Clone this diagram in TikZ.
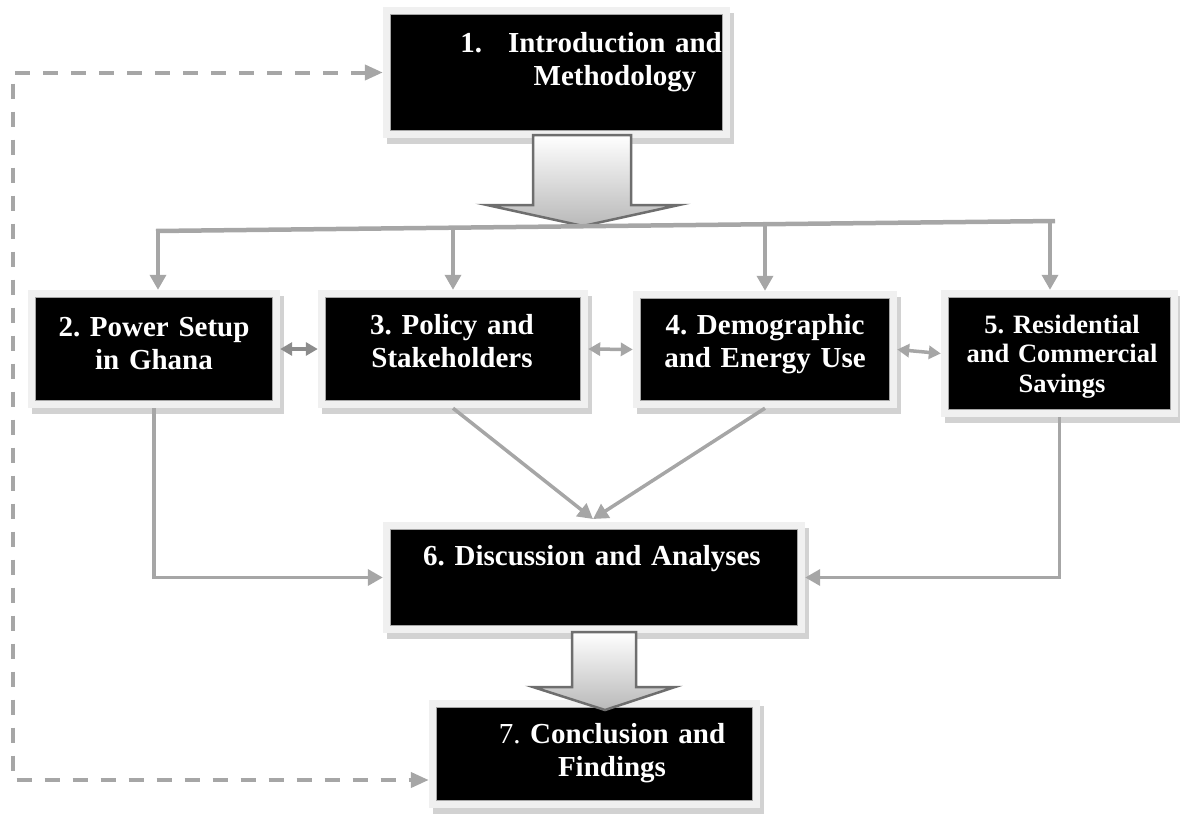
\documentclass[tikz,border=0pt]{standalone}
\usepackage{fontspec}
\setmainfont{Liberation Serif}
\frenchspacing
\usetikzlibrary{arrows.meta,shadows,calc}
\definecolor{conncol}{HTML}{A6A6A6}
\definecolor{darkconn}{HTML}{8C8C8C}
\definecolor{framecol}{HTML}{F0F0F0}
\definecolor{shadcol}{HTML}{D2D2D2}
\definecolor{aedge}{HTML}{6E6E6E}
\begin{document}
\begin{tikzpicture}[x=1pt,y=-1pt,
  box/.style={fill=framecol, draw=none, inner sep=0pt,
    drop shadow={shadow xshift=4pt, shadow yshift=-6pt, fill=shadcol, opacity=1},
    path picture={
      \fill[black, draw=gray!70, line width=0.8pt]
        ([shift={(7.5pt,7.5pt)}]path picture bounding box.south west) rectangle
        ([shift={(-7.5pt,-7.5pt)}]path picture bounding box.north east);}},
  lbl/.style={text=white, font=\bfseries\fontsize{29}{33}\selectfont, align=center,
    text width=360pt, anchor=base, inner sep=0pt},
  arr/.style={draw=conncol, line width=3.5pt, -{Triangle[length=15pt,width=16pt]}},
  trunk/.style={draw=conncol, line width=4.5pt},
  dbl/.style={draw=conncol, line width=3.5pt,
    {Triangle[length=12pt,width=13pt]}-{Triangle[length=12pt,width=13pt]}},
  dashconn/.style={draw=conncol, line width=4pt, dash pattern=on 15pt off 13pt,
    {Triangle[length=18pt,width=15pt]}-{Triangle[length=18pt,width=15pt]}},
  bigarrow/.style={draw=aedge, line width=2.5pt, line join=miter,
    top color=white, bottom color=gray!55}
]
\useasboundingbox (0,0) rectangle (1180,814);

% boxes
\node[box, minimum width=347pt, minimum height=131pt] (b1) at (556.5,72.5) {};
\node[box, minimum width=252pt, minimum height=118pt] (b2) at (154,349) {};
\node[box, minimum width=270pt, minimum height=118pt] (b3) at (453,349) {};
\node[box, minimum width=264pt, minimum height=117pt] (b4) at (765,349.5) {};
\node[box, minimum width=237pt, minimum height=127pt] (b5) at (1059.5,353.5) {};
\node[box, minimum width=422pt, minimum height=111pt] (b6) at (594,577.5) {};
\node[box, minimum width=331pt, minimum height=108pt] (b7) at (594.5,754) {};

% labels
\node[lbl] (t1) at (615,52) {\llap{1.\hspace{26pt}}Introduction and\\Methodology};
\node[lbl] (t2) at (154,336) {2. Power Setup\\in Ghana};
\node[lbl] (t3) at (452,334) {3. Policy and\\Stakeholders};
\node[lbl] (t4) at (765,334) {4. Demographic\\and Energy Use};
\node[lbl, font=\bfseries\fontsize{26.5}{29.5}\selectfont] (t5) at (1062,333) {5. Residential\\and Commercial\\Savings};
\node[lbl] (t6) at (592,565) {6. Discussion and Analyses};
\node[lbl] (t7) at (612,743) {{\mdseries 7.} Conclusion and\\Findings};

% big block arrow 1
\path[bigarrow] (533,135) -- (631,135) -- (631,205) -- (679,205) -- (583,226)
  -- (487,205) -- (533,205) -- cycle;

% trunk line and drops
\coordinate (tl) at (156,231);
\coordinate (tr) at (1055,221);
\draw[trunk] (tl) -- (tr);
\coordinate (d2) at (158,231);
\coordinate (d3) at (453,228);
\coordinate (d4) at (765,224.5);
\coordinate (d5) at (1050,221.5);
\draw[arr] (d2) -- (d2 |- b2.north);
\draw[arr] (d3) -- (d3 |- b3.north);
\draw[arr] (d4) -- (d4 |- b4.north);
\draw[arr] (d5) -- (d5 |- b5.north);

% side links
\draw[dbl, draw=darkconn] (b2.east) -- (b3.west);
\draw[dbl] (b3.east) -- (b4.west);
\draw[dbl] (b4.east) -- (b5.west);

% to discussion
\coordinate (m) at (593,519);
\draw[arr] (b2.south) |- (b6.west);
\draw[arr] (b5.south) |- (b6.east);
\draw[arr] (b3.south) -- (m);
\draw[arr] (b4.south) -- (m);

% big block arrow 2
\path[bigarrow] (572,632) -- (636,632) -- (636,687) -- (675,687) -- (605,710)
  -- (533,687) -- (572,687) -- cycle;

% dashed feedback
\coordinate (dtl) at (13,72.5);
\coordinate (dbl) at (13,780);
\draw[dashconn] (b1.west) -- (dtl) -- (dbl) -- (dbl -| b7.west);
\end{tikzpicture}
\end{document}
